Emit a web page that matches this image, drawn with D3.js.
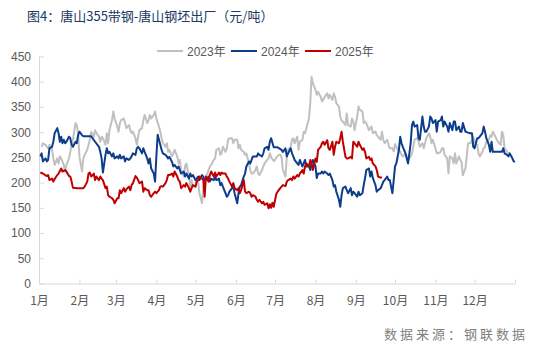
<!DOCTYPE html>
<html>
<head>
<meta charset="utf-8">
<script src="https://cdn.jsdelivr.net/npm/d3@7"></script>
<style>
  body { margin: 0; background: #fff; }
  svg { display: block; font-family: "Liberation Sans", Arial, sans-serif; }
</style>
</head>
<body>
<div id="chart"></div>
<script>
const W = 539, H = 354;

// x: day of year (0 = 1月1日), y: 元/吨
const days2023 = [2,3,5,6,7,8,10,11,12,14,15,16,17,19,20,21,23,24,25,26,28,29,30,31,33,34,35,37,38,39,40,42,43,44,46,47,48,49,51,52,53,54,56,57,58,60,61,62,63,65,66,67,69,70,71,72,74,75,76,77,79,80,81,83,84,85,86,88,89,90,92,93,94,95,97,98,99,100,102,103,104,106,107,108,109,111,112,113,115,116,117,118,120,121,122,123,125,126,127,129,130,131,132,134,135,136,138,139,140,141,143,144,145,146,148,149,150,152,153,154,155,157,158,159,161,162,163,164,166,167,168,169,171,172,173,175,176,177,178,180,181,182,184,185,186,187,189,190,191,193,194,195,196,198,199,200,202,203,204,205,207,208,209,210,212,213,214,216,217,218,219,221,222,223,225,226,227,228,230,231,232,233,235,236,237,239,240,241,242,244,245,246,248,249,250,251,253,254,255,256,258,259,260,262,263,264,265,267,268,269,271,272,273,274,276,277,278,279,281,282,283,285,286,287,288,290,291,292,294,295,296,297,299,300,301,302,304,305,306,308,309,310,311,313,314,315,317,318,319,320,322,323,324,325,327,328,329,331,332,333,334,336,337,338,340,341,342,343,345,346,347,348,350,351,352,354,355,356,357,359,360];
const values2023 = [271,278,275,271,268,275,265,248,235,248,238,252,248,235,222,235,248,261,275,285,318,314,298,252,222,248,255,265,275,285,301,291,304,298,291,281,291,288,275,298,278,304,324,341,327,311,301,318,324,327,318,308,314,304,298,301,288,275,291,304,308,324,334,318,324,334,327,334,341,327,311,301,288,278,271,278,261,265,252,258,265,252,238,245,225,212,232,238,212,192,205,192,195,205,202,179,159,192,205,218,225,232,235,245,248,265,268,255,258,271,261,268,285,288,288,278,285,285,268,275,265,261,255,258,238,225,218,218,225,232,218,215,225,232,238,245,248,258,250,243,245,250,255,255,251,225,212,251,265,271,285,288,278,291,265,281,285,301,298,308,327,357,410,397,384,374,380,370,361,364,370,377,367,374,364,377,370,357,351,331,324,321,314,337,314,311,327,321,304,331,351,344,341,318,321,318,304,308,311,298,301,294,291,285,301,285,278,285,275,268,268,262,276,271,261,262,255,252,258,252,245,252,258,271,285,288,281,271,278,268,278,288,298,291,278,285,268,258,258,261,268,268,255,248,218,252,248,238,258,238,252,245,241,215,228,252,278,278,285,291,281,275,258,252,261,268,271,281,285,294,291,301,291,285,281,275,301,294,268,261,258];

const days2024 = [1,2,3,5,6,7,8,10,11,12,14,15,16,17,18,19,20,21,23,24,25,26,28,29,30,31,33,34,40,43,46,47,48,49,51,52,53,54,56,57,58,60,61,62,63,65,66,67,69,70,71,72,74,75,76,77,79,80,81,83,84,85,86,88,89,90,91,93,94,95,97,98,99,100,102,103,104,106,107,108,109,111,112,113,115,116,117,118,120,121,122,123,125,126,127,129,130,131,132,134,135,136,138,139,140,141,143,144,145,146,148,149,150,152,153,154,155,157,158,159,161,162,163,164,167,168,169,171,172,173,175,176,177,178,180,183,186,187,189,190,191,193,194,195,196,198,199,200,202,203,204,205,207,208,209,210,212,213,214,216,217,218,219,221,222,223,225,226,227,228,230,231,232,233,235,236,237,239,240,241,242,244,245,246,248,249,250,251,253,254,255,256,258,259,260,262,263,264,265,267,268,269,271,272,273,274,276,277,278,279,281,282,283,285,286,287,288,290,291,292,294,295,296,297,299,300,301,302,304,305,306,308,309,310,311,313,314,315,317,318,319,320,322,323,324,325,327,330,332,333,334,336,337,338,340,341,342,343,345,346,347,348,355,356,357,359,360,361,363,364,365];
const values2024 = [252,258,242,248,242,245,268,271,281,298,308,298,281,291,278,285,278,281,291,288,275,271,281,278,294,301,294,292,292,281,271,261,248,220,255,268,258,261,252,258,248,252,248,255,248,252,242,248,245,248,252,258,255,268,271,268,258,268,261,248,238,248,228,218,202,252,295,275,265,258,255,252,248,251,241,232,235,228,232,225,218,222,212,218,208,218,212,215,205,208,212,205,215,212,205,208,212,202,208,205,212,205,208,195,199,192,179,172,175,182,189,192,179,159,179,192,195,212,218,232,242,238,245,252,252,258,255,252,258,268,271,265,281,288,270,270,265,261,268,252,258,268,258,252,245,238,235,245,232,238,245,232,232,225,238,245,232,209,218,218,222,218,222,218,215,218,205,192,195,182,166,152,175,189,192,185,179,189,175,182,179,172,182,175,179,195,209,225,228,212,222,209,195,182,185,189,195,202,205,212,205,205,179,205,232,238,265,291,278,271,258,248,238,278,314,321,311,314,288,285,331,311,301,301,311,331,327,318,324,301,321,324,331,311,321,311,301,318,304,321,321,304,311,301,301,318,301,298,298,271,268,288,288,291,298,311,301,288,275,261,281,261,261,268,258,255,252,258,248,242,241];

const days2025 = [1,3,6,7,8,10,11,12,14,15,17,18,20,21,23,24,25,26,29,31,34,35,37,38,39,40,42,43,44,46,47,48,49,51,52,53,54,56,57,58,60,61,62,63,65,66,67,69,70,71,72,74,75,76,77,79,80,81,83,84,85,86,88,89,90,92,93,94,95,97,98,99,100,102,103,104,106,107,108,109,111,112,113,115,116,117,118,120,121,122,123,125,126,127,128,130,131,132,134,135,136,138,139,140,141,143,144,145,146,148,149,150,152,153,154,155,157,158,159,161,162,163,164,166,167,168,169,171,172,173,175,176,177,178,179,180,181,182,183,185,186,187,189,190,191,193,194,195,196,198,199,200,202,203,204,205,207,208,209,210,212,213,214,216,217,218,219,221,222,223,225,226,227,228,230,231,232,233,235,236,237,239,240,241,242,244,245,246,248,249,250,251,253,254,255,256,258,259,260,262,263];
const values2025 = [220,218,213,215,205,208,202,207,215,218,228,222,225,222,213,212,202,190,189,189,189,192,202,218,220,212,218,205,212,205,212,208,205,189,192,175,172,169,166,159,169,169,185,179,189,182,187,192,185,195,199,213,210,205,199,202,182,189,185,185,175,172,179,182,179,185,192,193,192,199,205,215,215,218,212,222,212,205,202,189,195,192,199,189,182,189,195,192,202,205,212,208,205,172,212,202,215,222,212,220,212,220,215,220,218,218,212,208,202,192,199,189,185,189,179,185,205,182,179,182,179,172,175,172,166,162,166,159,162,156,159,149,157,150,160,152,165,178,182,189,192,195,193,202,205,208,205,212,208,215,212,218,225,218,232,238,232,245,238,225,248,241,265,271,278,281,275,284,268,265,281,255,271,281,278,288,301,281,251,248,248,251,248,281,278,271,281,275,265,268,261,248,251,245,248,238,232,225,212,210,210];

const seriesNames = ["2023年", "2024年", "2025年"];
const seriesColors = ["#c0c0c0", "#0c3d8c", "#c00000"];
const seriesDays = [days2023, days2024, days2025];
const seriesValues = [values2023, values2024, values2025];

const monthLabels = ["1月","2月","3月","4月","5月","6月","7月","8月","9月","10月","11月","12月",""];
const yTicks = [0,50,100,150,200,250,300,350,400,450];

const svg = d3.select("#chart").append("svg")
    .attr("width", W)
    .attr("height", H);

const start = new Date(2023, 0, 1);
const end = new Date(2024, 0, 1);

const x = d3.scaleTime()
    .domain([start, end])
    .range([39, 515]);

const y = d3.scaleLinear()
    .domain([0, 450])
    .range([283.5, 56.5]);

// title
svg.append("text")
    .attr("x", 27)
    .attr("y", 21)
    .attr("fill", "#203864")
    .style("font-family", "'Noto Sans CJK SC', sans-serif")
    .style("font-size", "13px")
    .text("图4：唐山355带钢-唐山钢坯出厂（元/吨）");

// axes
const monthTicks = d3.timeMonth.range(start, end).concat([end]);

const xAxis = svg.append("g")
    .attr("transform", "translate(0," + y(0) + ")")
    .call(d3.axisBottom(x)
        .tickValues(monthTicks)
        .tickSize(-4)
        .tickSizeOuter(0)
        .tickPadding(13)
        .tickFormat((d, i) => monthLabels[i]));

const yAxis = svg.append("g")
    .attr("transform", "translate(" + x(start) + ",0)")
    .call(d3.axisLeft(y)
        .tickValues(yTicks)
        .tickSize(-5)
        .tickSizeOuter(0)
        .tickPadding(8));

[xAxis, yAxis].forEach(g => {
    g.select(".domain").attr("stroke", "#d9d9d9");
    g.selectAll(".tick line").attr("stroke", "#d9d9d9");
    g.selectAll(".tick text")
        .attr("fill", "#595959")
        .style("font-size", "12px")
        .style("font-family", "'Noto Sans CJK SC', 'Liberation Sans', sans-serif");
});
yAxis.selectAll(".tick text").style("font-family", "'Liberation Sans', Arial, sans-serif");

// lines
const line = d3.line()
    .x(d => x(d3.timeDay.offset(start, d[0])))
    .y(d => y(d[1]));

seriesNames.forEach((name, i) => {
    const pts = seriesDays[i].map((d, j) => [d, seriesValues[i][j]]);
    svg.append("path")
        .datum(pts)
        .attr("fill", "none")
        .attr("stroke", seriesColors[i])
        .attr("stroke-width", 2)
        .attr("stroke-linejoin", "round")
        .attr("d", line);
});

// legend
const legendX = [157, 231, 305];
const legend = svg.append("g");
seriesNames.forEach((name, i) => {
    const g = legend.append("g").attr("transform", "translate(" + legendX[i] + ",51)");
    g.append("line")
        .attr("x1", 0).attr("x2", 26)
        .attr("stroke", seriesColors[i])
        .attr("stroke-width", 2);
    g.append("text")
        .attr("x", 30)
        .attr("y", 4.5)
        .attr("fill", "#595959")
        .style("font-size", "12px")
        .style("font-family", "'Liberation Sans', 'Noto Sans CJK SC', sans-serif")
        .text(name);
});

// source
svg.append("text")
    .attr("x", 384)
    .attr("y", 339)
    .attr("fill", "#7f7f7f")
    .style("font-family", "'Noto Sans CJK SC', sans-serif")
    .style("font-size", "13px")
    .style("letter-spacing", "3px")
    .text("数据来源：钢联数据");
</script>
</body>
</html>
